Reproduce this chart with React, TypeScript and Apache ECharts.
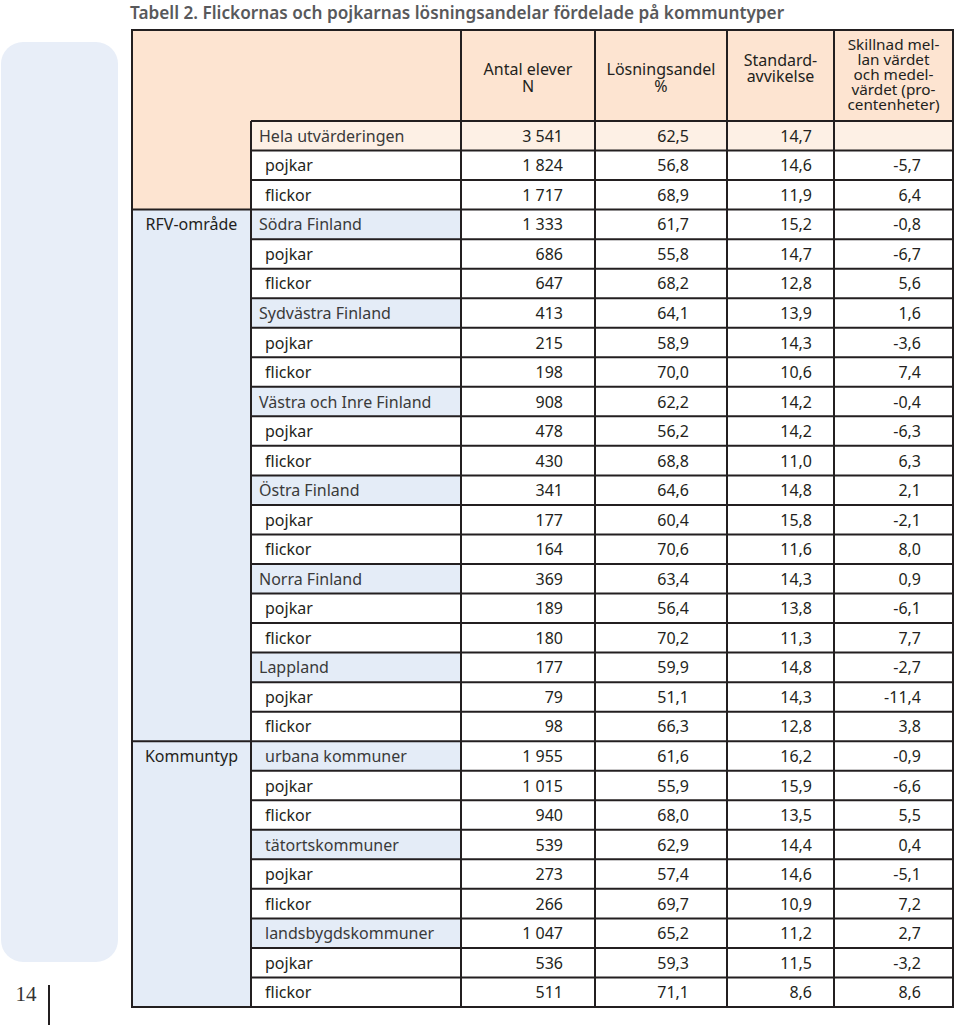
import React, { useEffect, useRef } from "react";
import * as echarts from "echarts";

const titleText = "Tabell 2. Flickornas och pojkarnas lösningsandelar fördelade på kommuntyper";
const pageNumber = "14";
const headers = [
  "Antal elever\nN",
  "Lösningsandel\n%",
  "Standard-\navvikelse",
  "Skillnad mel-\nlan värdet\noch medel-\nvärdet (pro-\ncentenheter)",
];
const sectionLabels = ["", "RFV-område", "Kommuntyp"];
const sectionStartRows = [0, 3, 21];

const rowLabels = [
  "Hela utvärderingen", "pojkar", "flickor",
  "Södra Finland", "pojkar", "flickor",
  "Sydvästra Finland", "pojkar", "flickor",
  "Västra och Inre Finland", "pojkar", "flickor",
  "Östra Finland", "pojkar", "flickor",
  "Norra Finland", "pojkar", "flickor",
  "Lappland", "pojkar", "flickor",
  "urbana kommuner", "pojkar", "flickor",
  "tätortskommuner", "pojkar", "flickor",
  "landsbygdskommuner", "pojkar", "flickor",
];
// "total" | "group" | "sub"
const rowKinds = [
  "total", "sub", "sub",
  "group", "sub", "sub",
  "group", "sub", "sub",
  "group", "sub", "sub",
  "group", "sub", "sub",
  "group", "sub", "sub",
  "group", "sub", "sub",
  "group", "sub", "sub",
  "group", "sub", "sub",
  "group", "sub", "sub",
];
const antalElever = [
  3541, 1824, 1717,
  1333, 686, 647,
  413, 215, 198,
  908, 478, 430,
  341, 177, 164,
  369, 189, 180,
  177, 79, 98,
  1955, 1015, 940,
  539, 273, 266,
  1047, 536, 511,
];
const losningsandel = [
  62.5, 56.8, 68.9,
  61.7, 55.8, 68.2,
  64.1, 58.9, 70.0,
  62.2, 56.2, 68.8,
  64.6, 60.4, 70.6,
  63.4, 56.4, 70.2,
  59.9, 51.1, 66.3,
  61.6, 55.9, 68.0,
  62.9, 57.4, 69.7,
  65.2, 59.3, 71.1,
];
const standardavvikelse = [
  14.7, 14.6, 11.9,
  15.2, 14.7, 12.8,
  13.9, 14.3, 10.6,
  14.2, 14.2, 11.0,
  14.8, 15.8, 11.6,
  14.3, 13.8, 11.3,
  14.8, 14.3, 12.8,
  16.2, 15.9, 13.5,
  14.4, 14.6, 10.9,
  11.2, 11.5, 8.6,
];
const skillnad: (number | null)[] = [
  null, -5.7, 6.4,
  -0.8, -6.7, 5.6,
  1.6, -3.6, 7.4,
  -0.4, -6.3, 6.3,
  2.1, -2.1, 8.0,
  0.9, -6.1, 7.7,
  -2.7, -11.4, 3.8,
  -0.9, -6.6, 5.5,
  0.4, -5.1, 7.2,
  2.7, -3.2, 8.6,
];

const fmtInt = (v: number) => String(v).replace(/\B(?=(\d{3})+(?!\d))/g, " ");
const fmtDec = (v: number | null) => (v === null ? "" : v.toFixed(1).replace(".", ","));

// layout
const X0 = 132;
const XL = 251;
const COLS = [461, 595, 727, 834, 953];
const Y0 = 30;
const YH = 121;
const YB = 1007;
const NUM_RIGHT = [563, 689, 812, 921];
const LINE = "#231f20";
const FONT = "'Noto Sans', sans-serif";
const PEACH = "#fde4d1";
const LIGHT_PEACH = "#fdf0e5";
const BLUE = "#e4ecf7";

export default function App() {
  const ref = useRef<HTMLDivElement>(null);
  useEffect(() => {
    if (!ref.current) return;
    const chart = echarts.init(ref.current, null, { renderer: "svg" });
    const n = rowLabels.length;
    const rowH = (YB - YH) / n;
    const rowY = (i: number) => YH + i * rowH;
    const els: any[] = [];

    // side panel
    els.push({ type: "rect", shape: { x: 1, y: 42, width: 117, height: 920, r: 22 }, style: { fill: "#e8eef8" } });
    // title
    els.push({
      type: "text", x: 130, y: 12,
      style: { text: titleText, fill: "#58595b", font: `600 17.2px ${FONT}`, align: "left", verticalAlign: "middle" },
    });
    // page number
    els.push({
      type: "text", x: 26, y: 994,
      style: { text: pageNumber, fill: "#333", font: `21px 'Liberation Serif', serif`, align: "center", verticalAlign: "middle" },
    });
    els.push({ type: "line", shape: { x1: 49, y1: 985, x2: 49, y2: 1025 }, style: { stroke: LINE, lineWidth: 2 } });

    // backgrounds
    els.push({ type: "rect", shape: { x: X0, y: Y0, width: COLS[4] - X0, height: YH - Y0 }, style: { fill: PEACH } });
    els.push({ type: "rect", shape: { x: X0, y: YH, width: XL - X0, height: rowY(sectionStartRows[1]) - YH }, style: { fill: PEACH } });
    els.push({ type: "rect", shape: { x: X0, y: rowY(sectionStartRows[1]), width: XL - X0, height: YB - rowY(sectionStartRows[1]) }, style: { fill: BLUE } });
    for (let i = 0; i < n; i++) {
      const kind = rowKinds[i];
      if (kind === "total") {
        els.push({ type: "rect", shape: { x: XL, y: rowY(i), width: COLS[4] - XL, height: rowH }, style: { fill: LIGHT_PEACH } });
      } else {
        els.push({ type: "rect", shape: { x: XL, y: rowY(i), width: COLS[4] - XL, height: rowH }, style: { fill: "#ffffff" } });
        if (kind === "group") {
          els.push({ type: "rect", shape: { x: XL, y: rowY(i), width: COLS[0] - XL, height: rowH }, style: { fill: BLUE } });
        }
      }
    }

    // grid lines
    const hl = (x1: number, x2: number, y: number) =>
      els.push({ type: "line", shape: { x1, y1: y, x2, y2: y }, style: { stroke: LINE, lineWidth: 2 } });
    const vl = (x: number, y1: number, y2: number) =>
      els.push({ type: "line", shape: { x1: x, y1, x2: x, y2 }, style: { stroke: LINE, lineWidth: 2 } });
    for (let i = 0; i < n; i++) hl(XL, COLS[4], rowY(i));
    hl(X0 - 1, COLS[4] + 1, Y0);
    hl(X0 - 1, COLS[4] + 1, YB);
    sectionStartRows.slice(1).forEach((r) => hl(X0, XL, rowY(r)));
    vl(X0, Y0, YB);
    vl(XL, YH, YB);
    COLS.forEach((x) => vl(x, Y0, YB));

    // headers: each line as its own text
    const headerLayout = [
      { y: 77, lh: 17, size: 16 },
      { y: 77, lh: 17, size: 16 },
      { y: 68, lh: 16, size: 16 },
      { y: 74, lh: 15.2, size: 15.3 },
    ];
    headers.forEach((h, c) => {
      const lines = h.split("\n");
      const { y, lh, size } = headerLayout[c];
      lines.forEach((line, k) => {
        els.push({
          type: "text", x: (COLS[c] + COLS[c + 1]) / 2, y: y + (k - (lines.length - 1) / 2) * lh,
          style: {
            text: line, fill: "#231f20", font: `${size}px ${FONT}`, align: "center", verticalAlign: "middle",
            lineHeight: lh,
          },
        });
      });
    });

    // section labels
    sectionLabels.forEach((s, k) => {
      if (!s) return;
      const r = sectionStartRows[k];
      els.push({
        type: "text", x: (X0 + XL) / 2, y: rowY(r) + rowH / 2,
        style: { text: s, fill: "#231f20", font: `16px ${FONT}`, align: "center", verticalAlign: "middle" },
      });
    });

    // rows
    for (let i = 0; i < n; i++) {
      const cy = rowY(i) + rowH / 2;
      const inKommun = i >= sectionStartRows[2];
      const indent = rowKinds[i] === "sub" || inKommun ? 265 : 259;
      const labelColor = rowKinds[i] === "sub" ? "#231f20" : "#3a3a3a";
      els.push({
        type: "text", x: indent, y: cy,
        style: { text: rowLabels[i], fill: labelColor, font: `16px ${FONT}`, align: "left", verticalAlign: "middle" },
      });
      const vals = [fmtInt(antalElever[i]), fmtDec(losningsandel[i]), fmtDec(standardavvikelse[i]), fmtDec(skillnad[i])];
      vals.forEach((v, c) => {
        if (!v) return;
        els.push({
          type: "text", x: NUM_RIGHT[c], y: cy,
          style: { text: v, fill: "#231f20", font: `16px ${FONT}`, align: "right", verticalAlign: "middle" },
        });
      });
    }

    chart.setOption({ animation: false, graphic: { elements: els } });
    return () => chart.dispose();
  }, []);
  return (
    <div
      ref={ref}
      style={{ position: "fixed", left: 0, top: 0, width: 960, height: 1029, background: "#ffffff" }}
    />
  );
}
